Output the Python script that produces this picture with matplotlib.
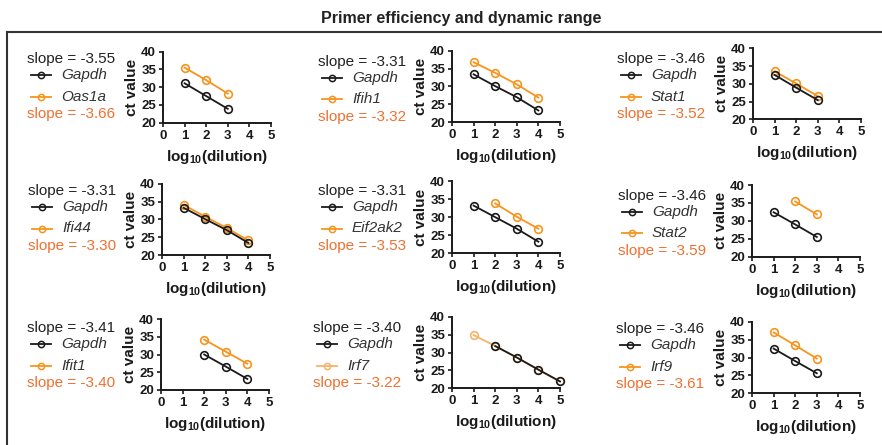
import matplotlib
matplotlib.use('Agg')
import matplotlib.pyplot as plt
from matplotlib.lines import Line2D

plt.rcParams['font.family'] = ['Liberation Sans', 'DejaVu Sans']
plt.rcParams['mathtext.fontset'] = 'custom'
plt.rcParams['mathtext.rm'] = 'Liberation Sans:bold'
plt.rcParams['mathtext.bf'] = 'Liberation Sans:bold'
plt.rcParams['mathtext.default'] = 'rm'

W, H = 882, 445

# ---------------- data ----------------
genes = ['Oas1a', 'Ifih1', 'Stat1', 'Ifi44', 'Eif2ak2', 'Stat2', 'Ifit1', 'Irf7', 'Irf9']
gapdh_slopes = ['-3.55', '-3.31', '-3.46', '-3.31', '-3.31', '-3.46', '-3.41', '-3.40', '-3.46']
gene_slopes = ['-3.66', '-3.32', '-3.52', '-3.30', '-3.53', '-3.59', '-3.40', '-3.22', '-3.61']

gapdh_x = [[1, 2, 3], [1, 2, 3, 4], [1, 2, 3], [1, 2, 3, 4], [1, 2, 3, 4],
           [1, 2, 3], [2, 3, 4], [2, 3, 4, 5], [1, 2, 3]]
gapdh_ct = [[31.1, 27.5, 23.9], [33.4, 30.1, 27.0, 23.3], [32.5, 28.9, 25.4],
            [33.3, 30.1, 27.0, 23.4], [33.2, 30.0, 26.8, 23.2], [32.4, 29.0, 25.5],
            [30.0, 26.6, 23.1], [31.8, 28.6, 25.2, 21.9], [32.5, 29.0, 25.6]]
gene_x = [[1, 2, 3], [1, 2, 3, 4], [1, 2, 3], [1, 2, 3, 4], [2, 3, 4],
          [2, 3], [2, 3, 4], [1, 2, 3, 4, 5], [1, 2, 3]]
gene_ct = [[35.5, 32.0, 28.2], [36.8, 33.8, 30.6, 26.9], [33.5, 30.1, 26.5],
           [34.1, 30.8, 27.6, 24.1], [33.8, 30.1, 26.8], [35.4, 31.8],
           [34.2, 30.8, 27.4], [34.9, 31.8, 28.6, 25.2, 22.0], [37.0, 33.4, 29.7]]

x_ticks = [0, 1, 2, 3, 4, 5]
y_ticks = [20, 25, 30, 35, 40]

# ---------------- layout (pixels) ----------------
ax_left = [163, 452, 753, 162, 452, 752, 161, 452, 752]
ax_top = [51.7, 50.7, 48.3, 184, 181, 185, 319, 316.7, 321.7]
ax_bot = [122.7, 122.3, 119.3, 255, 253.3, 256.7, 390, 388.3, 393.3]
ax_w = 108
leg_left = [27, 318, 617, 28, 318, 618, 27, 313, 616]
leg_top = [59.3, 61.7, 59.3, 191, 191, 195.7, 328.3, 328.3, 329.3]

black = '#1a1a1a'
orange = '#F7941D'
orange_light = '#F6B36A'
slope_orange = '#F07030'

fig = plt.figure(figsize=(W / 100, H / 100), dpi=100)

def fx(px):
    return px / W

def fy(py):
    return 1 - py / H

# outer frame (top and left lines)
fig.add_artist(Line2D([fx(7), fx(882)], [fy(32), fy(32)], color='#333333', lw=1.5))
fig.add_artist(Line2D([fx(7), fx(7)], [fy(32), fy(445)], color='#333333', lw=1.5))

fig.text(fx(461), fy(18), 'Primer efficiency and dynamic range', ha='center', va='center',
         fontsize=11.5, fontweight='bold', color='#222222')

for i in range(9):
    gcol = orange_light if genes[i] == 'Irf7' else orange
    ax = fig.add_axes([fx(ax_left[i]), fy(ax_bot[i]), ax_w / W, (ax_bot[i] - ax_top[i]) / H])
    ax.plot(gene_x[i], gene_ct[i], color=gcol, lw=1.3, marker='o', ms=5.5,
            mfc='none', mec=gcol, mew=1.2, zorder=2, clip_on=False)
    ax.plot(gapdh_x[i], gapdh_ct[i], color=black, lw=1.3, marker='o', ms=5.5,
            mfc='none', mec=black, mew=1.2, zorder=3, clip_on=False)
    ax.set_xlim(0, 5)
    ax.set_ylim(20, 40)
    ax.set_xticks(x_ticks)
    ax.set_yticks(y_ticks)
    ax.set_yticklabels([str(v) for v in y_ticks])
    for s in ['top', 'right']:
        ax.spines[s].set_visible(False)
    for s in ['left', 'bottom']:
        ax.spines[s].set_linewidth(1.4)
        ax.spines[s].set_color(black)
    ax.tick_params(direction='out', length=3, width=1.2, colors=black, pad=2)
    for lab in ax.get_xticklabels() + ax.get_yticklabels():
        lab.set_fontweight('bold')
        lab.set_fontsize(9.5)
    ax.set_xlabel('log$_{10}$(dilution)', fontsize=11, fontweight='bold', color=black)
    ax.set_ylabel('ct value', fontsize=11, fontweight='bold', color=black)
    ax.xaxis.label.set_va('center')
    ax.yaxis.label.set_va('center')
    hpx = ax_bot[i] - ax_top[i]
    ax.xaxis.set_label_coords(0.5, -34 / hpx)
    ax.yaxis.set_label_coords(-31 / ax_w, 0.5)

    # legend
    lx = leg_left[i]
    ly = leg_top[i]
    fig.text(fx(lx), fy(ly), 'slope = ' + gapdh_slopes[i], ha='left', va='center',
             fontsize=11, color='#222222')
    for dy, col, name in [(16, black, 'Gapdh'), (37.5, gcol, genes[i])]:
        fig.add_artist(Line2D([fx(lx + 4), fx(lx + 24)], [fy(ly + dy), fy(ly + dy)],
                              color=col, lw=1.3))
        fig.add_artist(Line2D([fx(lx + 14)], [fy(ly + dy)], color=col, marker='o', ms=4.5,
                              mfc='none', mec=col, mew=1.1))
        fig.text(fx(lx + 34), fy(ly + dy), name, ha='left', va='center', fontsize=11,
                 style='italic', color='#333333')
    fig.text(fx(lx), fy(ly + 55), 'slope = ' + gene_slopes[i], ha='left', va='center',
             fontsize=11, color=slope_orange)

fig.savefig('out.png', dpi=100)
